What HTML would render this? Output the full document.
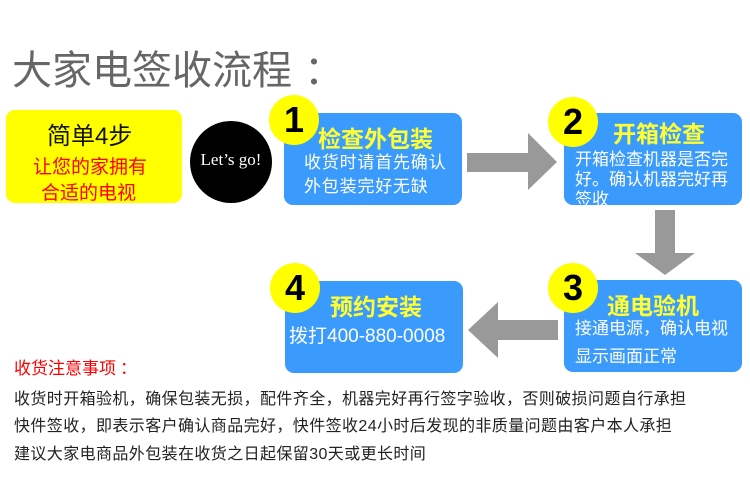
<!DOCTYPE html>
<html><head><meta charset="utf-8"><style>
body{margin:0;width:750px;height:500px;background:#fff;position:relative;overflow:hidden;font-family:"Liberation Sans","Noto Sans CJK SC",sans-serif}
.a{position:absolute;white-space:nowrap}
.box{position:absolute;background:#3a9bfc;border-radius:9px}
.num{position:absolute;width:50px;height:50px;border-radius:50%;background:#ffff00;color:#000;font-weight:bold;font-size:36px;text-align:center;line-height:50px}
.t{position:absolute;color:#ffff33;font-weight:bold;font-size:23px;white-space:nowrap}
.w{position:absolute;color:#fff;font-size:17px;line-height:22px;white-space:nowrap}
.n{position:absolute;left:14px;font-size:16px;color:#222;letter-spacing:0.4px;white-space:nowrap}
</style></head><body>
<div class="a" style="left:12px;top:38px;font-size:40px;color:#666">大家电签收流程<span style="margin-left:12px">：</span></div>

<div class="box" style="left:6px;top:110px;width:176px;height:93px;background:#ffff00"></div>
<div class="a" style="left:47px;top:116px;font-size:24px;color:#111">简单4步</div>
<div class="a" style="left:33px;top:152px;font-size:19px;color:#f00">让您的家拥有</div>
<div class="a" style="left:41px;top:178px;font-size:19px;color:#f00">合适的电视</div>

<div class="a" style="left:190px;top:121px;width:82px;height:82px;border-radius:50%;background:#000"></div>
<div class="a" style="left:197px;top:150px;width:68px;text-align:center;font-family:'Liberation Serif',serif;font-size:17px;color:#fff">Let’s go!</div>

<div class="box" style="left:284px;top:113px;width:178px;height:92px"></div>
<div class="num" style="left:269px;top:95px">1</div>
<div class="t" style="left:318px;top:120px">检查外包装</div>
<div class="w" style="left:304px;top:151px;letter-spacing:0.8px;line-height:24px">收货时请首先确认<br>外包装完好无缺</div>

<div class="box" style="left:564px;top:113px;width:178px;height:92px"></div>
<div class="num" style="left:548px;top:97px">2</div>
<div class="t" style="left:613px;top:115px">开箱检查</div>
<div class="w" style="left:575px;top:150px;line-height:20px">开箱检查机器是否完<br>好。确认机器完好再<br>签收</div>

<div class="box" style="left:564px;top:280px;width:178px;height:92px"></div>
<div class="num" style="left:548px;top:263px">3</div>
<div class="t" style="left:607px;top:287px">通电验机</div>
<div class="w" style="left:575px;top:315px;line-height:28px">接通电源，确认电视<br>显示画面正常</div>

<div class="box" style="left:285px;top:281px;width:178px;height:92px"></div>
<div class="num" style="left:270px;top:263px">4</div>
<div class="t" style="left:330px;top:288px">预约安装</div>
<div class="w" style="left:289px;top:326px;font-size:19px">拨打400-880-0008</div>

<svg class="a" style="left:0;top:0" width="750" height="500">
<polygon points="467,153 528,153 528,133 557,162 528,190 528,172 467,172" fill="#999"/>
<polygon points="655,210 675,210 675,253 695,253 665,275 635,253 655,253" fill="#999"/>
<polygon points="558,320 498,320 498,302 468,330 498,358 498,340 558,340" fill="#999"/>
</svg>

<div class="a" style="left:14px;top:354px;font-size:17px;color:#f00">收货注意事项<span style="margin-left:4px">：</span></div>
<div class="n" style="top:385px">收货时开箱验机，确保包装无损，配件齐全，机器完好再行签字验收，否则破损问题自行承担</div>
<div class="n" style="top:412px">快件签收，即表示客户确认商品完好，快件签收24小时后发现的非质量问题由客户本人承担</div>
<div class="n" style="top:440px">建议大家电商品外包装在收货之日起保留30天或更长时间</div>
</body></html>
